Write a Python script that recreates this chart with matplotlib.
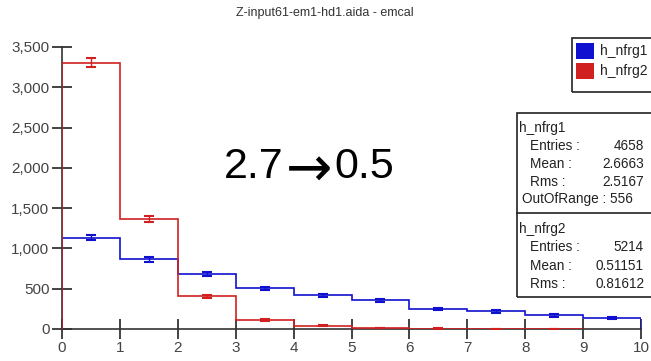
import numpy as np
import matplotlib
matplotlib.use("Agg")
import matplotlib.pyplot as plt
from matplotlib.ticker import FuncFormatter
from matplotlib.patches import Rectangle
from matplotlib.lines import Line2D

plt.rcParams['font.family'] = ['Liberation Sans', 'DejaVu Sans']

title = "Z-input61-em1-hd1.aida - emcal"
edges1 = [0, 1, 2, 3, 4, 5, 6, 7, 8, 9, 10]
h1 = [1134, 866, 687, 504, 420, 354, 250, 218, 168, 134]
edges2 = [0, 1, 2, 3, 4, 5, 6, 7, 8, 9]
h2 = [3304, 1371, 404, 116, 39, 12, 5, 2, 1]
names = ["h_nfrg1", "h_nfrg2"]
stats1 = [("Entries :", "4658"), ("Mean :", "2.6663"), ("Rms :", "2.5167")]
oor1 = "OutOfRange : 556"
stats2 = [("Entries :", "5214"), ("Mean :", "0.51151"), ("Rms :", "0.81612")]
note_parts = ["2.7", "\u2192", "0.5"]
yticks = [0, 500, 1000, 1500, 2000, 2500, 3000, 3500]
xticks = [0, 1, 2, 3, 4, 5, 6, 7, 8, 9, 10]

W, H = 651, 361
fig = plt.figure(figsize=(W / 100, H / 100), dpi=100)
ax = fig.add_axes([62 / W, 1 - 329 / H, (641 - 62) / W, (329 - 47) / H])

blue = "#1010d0"
red = "#d02020"

ax.stairs(h1, edges1, baseline=0, color=blue, lw=1.2, zorder=3)
ax.stairs(h2, edges2, baseline=0, color=red, lw=1.2, zorder=4)
c1 = (np.array(edges1[:-1]) + np.array(edges1[1:])) / 2
c2 = (np.array(edges2[:-1]) + np.array(edges2[1:])) / 2
ax.errorbar(c1, h1, yerr=np.sqrt(h1), fmt='none', ecolor=blue, capsize=3.5, elinewidth=1, capthick=1.5, zorder=3)
ax.errorbar(c2, h2, yerr=np.sqrt(h2), fmt='none', ecolor=red, capsize=3.5, elinewidth=1, capthick=1.5, zorder=4)

ax.set_xlim(0, 10)
ax.set_ylim(0, 3500)
ax.set_xticks(xticks)
ax.set_yticks(yticks)
ax.yaxis.set_major_formatter(FuncFormatter(lambda v, p: f"{int(v):,}"))
for s in ["top", "right"]:
    ax.spines[s].set_visible(False)
for s in ["left", "bottom"]:
    ax.spines[s].set_color("#333333")
    ax.spines[s].set_linewidth(1.2)
ax.tick_params(direction='inout', length=14, width=1.2, color="#222222",
               labelsize=11, labelcolor="#444444", pad=2)
ax.set_facecolor("none")

fig.text(325 / W, 1 - 13 / H, title, ha='center', va='center', fontsize=9, color="#333333")

# big annotation text
fs_big = 31
fig.text(283 / W, 1 - 167 / H, note_parts[0], ha='right', va='center', fontsize=fs_big, color="black")
fig.text(309 / W, 1 - 171 / H, note_parts[1], ha='center', va='center', fontsize=40,
         color="black", family=['DejaVu Sans'])
fig.text(334 / W, 1 - 167 / H, note_parts[2], ha='left', va='center', fontsize=fs_big, color="black")

# legend box
fig.patches.append(Rectangle((572 / W, 1 - 92 / H), 90 / W, 54 / H, transform=fig.transFigure,
                             fill=False, ec="#222222", lw=1.2))
for i, (nm, col) in enumerate(zip(names, [blue, red])):
    yc = 51 + i * 20
    fig.patches.append(Rectangle((576 / W, 1 - (yc + 8) / H), 18 / W, 16 / H, transform=fig.transFigure,
                                 fc=col, ec='none'))
    fig.text(600 / W, 1 - yc / H, nm, ha='left', va='center', fontsize=10, color="#222222")

# stats box
fig.patches.append(Rectangle((517 / W, 1 - 297 / H), 150 / W, (297 - 113) / H, transform=fig.transFigure,
                             fill=False, ec="#222222", lw=1.2))
fig.lines.append(Line2D([517 / W, 1.0], [1 - 213 / H, 1 - 213 / H], transform=fig.transFigure,
                        color="#222222", lw=1.2))
fs = 9.8
fig.text(519 / W, 1 - 128 / H, names[0], ha='left', va='center', fontsize=fs, color="#222222")
for i, (k, v) in enumerate(stats1):
    y = 146 + i * 18
    fig.text(530 / W, 1 - y / H, k, ha='left', va='center', fontsize=fs, color="#222222")
    fig.text(644 / W, 1 - y / H, v, ha='right', va='center', fontsize=fs, color="#222222")
fig.text(522 / W, 1 - 199 / H, oor1, ha='left', va='center', fontsize=fs, color="#222222")
fig.text(519 / W, 1 - 229 / H, names[1], ha='left', va='center', fontsize=fs, color="#222222")
for i, (k, v) in enumerate(stats2):
    y = 247 + i * 18.5
    fig.text(530 / W, 1 - y / H, k, ha='left', va='center', fontsize=fs, color="#222222")
    fig.text(644 / W, 1 - y / H, v, ha='right', va='center', fontsize=fs, color="#222222")

fig.savefig("out.png", dpi=100)
